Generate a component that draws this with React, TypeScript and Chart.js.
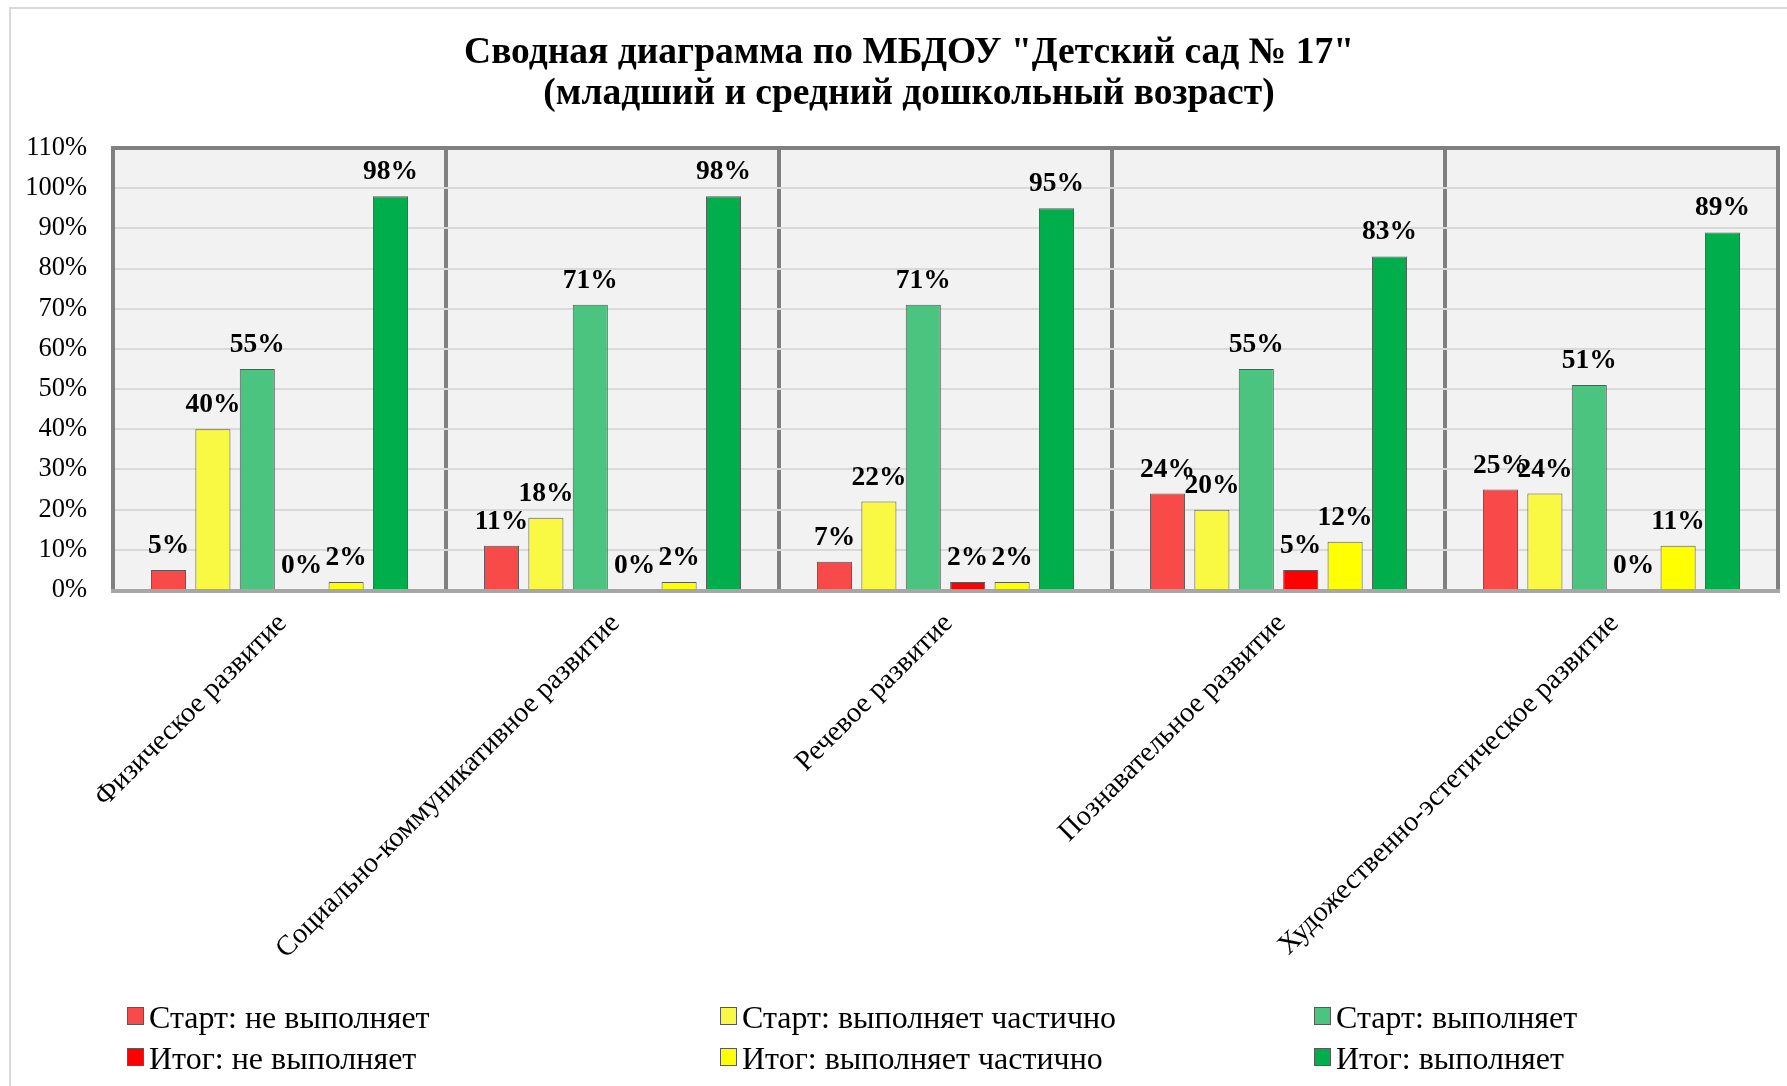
import React, { useEffect, useRef } from "react";
import { Chart, registerables } from "chart.js";

Chart.register(...registerables);

const categories = [
  "Физическое развитие",
  "Социально-коммуникативное развитие",
  "Речевое развитие",
  "Познавательное развитие",
  "Художественно-эстетическое развитие",
];

const seriesNames = [
  "Старт: не выполняет",
  "Старт: выполняет частично",
  "Старт: выполняет",
  "Итог: не выполняет",
  "Итог: выполняет частично",
  "Итог: выполняет",
];

const startNotDone = [5, 11, 7, 24, 25];
const startPartial = [40, 18, 22, 20, 24];
const startDone = [55, 71, 71, 55, 51];
const finalNotDone = [0, 0, 2, 5, 0];
const finalPartial = [2, 2, 2, 12, 11];
const finalDone = [98, 98, 95, 83, 89];

const seriesColors = ["#f94a4a", "#f9f944", "#4ac47f", "#ff0000", "#ffff00", "#00ae4c"];

const titleLines = [
  'Сводная диаграмма по МБДОУ "Детский сад № 17"',
  "(младший и средний дошкольный возраст)",
];

const yTicks = [0, 10, 20, 30, 40, 50, 60, 70, 80, 90, 100, 110];

const SERIF = '"Liberation Serif", "Times New Roman", serif';

export default function App() {
  const ref = useRef<HTMLCanvasElement | null>(null);

  useEffect(() => {
    const canvas = ref.current;
    if (!canvas) return;
    const values = [startNotDone, startPartial, startDone, finalNotDone, finalPartial, finalDone];

    const decor = {
      id: "decor",
      beforeDraw(chart: any) {
        const { ctx, chartArea: a } = chart;
        ctx.save();
        ctx.fillStyle = "#ffffff";
        ctx.fillRect(0, 0, chart.width, chart.height);
        ctx.strokeStyle = "#d9d9d9";
        ctx.lineWidth = 2;
        ctx.strokeRect(10, 8, chart.width + 20, chart.height + 20);
        ctx.fillStyle = "#f2f2f2";
        ctx.fillRect(a.left, a.top, a.right - a.left, a.bottom - a.top);
        // title
        ctx.fillStyle = "#000";
        ctx.font = `bold 37.5px ${SERIF}`;
        ctx.textAlign = "center";
        ctx.textBaseline = "alphabetic";
        ctx.fillText(titleLines[0], 909, 63);
        ctx.fillText(titleLines[1], 909, 104);
        ctx.restore();
      },
      afterDatasetsDraw(chart: any) {
        const { ctx, chartArea: a } = chart;
        ctx.save();
        // frame
        ctx.strokeStyle = "#808080";
        ctx.lineWidth = 4;
        ctx.beginPath();
        ctx.moveTo(a.left, a.bottom);
        ctx.lineTo(a.left, a.top);
        ctx.lineTo(a.right, a.top);
        ctx.lineTo(a.right, a.bottom);
        ctx.stroke();
        ctx.strokeStyle = "#a6a6a6";
        ctx.beginPath();
        ctx.moveTo(a.left - 2, a.bottom + 1);
        ctx.lineTo(a.right + 2, a.bottom + 1);
        ctx.stroke();
        // data labels
        ctx.fillStyle = "#000";
        ctx.font = `bold 27.5px ${SERIF}`;
        ctx.textAlign = "center";
        ctx.textBaseline = "alphabetic";
        chart.data.datasets.forEach((ds: any, i: number) => {
          const meta = chart.getDatasetMeta(i);
          meta.data.forEach((el: any, j: number) => {
            ctx.fillText(`${ds.data[j]}%`, el.x, el.y - 17);
          });
        });
        // legend
        const cols = [127, 720, 1314];
        const rows = [1028, 1069];
        ctx.font = `32px ${SERIF}`;
        ctx.textAlign = "left";
        chart.data.datasets.forEach((ds: any, i: number) => {
          const x = cols[i % 3];
          const y = rows[Math.floor(i / 3)];
          ctx.fillStyle = ds.backgroundColor;
          ctx.fillRect(x, y - 21, 17, 18);
          ctx.strokeStyle = "#595959";
          ctx.lineWidth = 1;
          ctx.strokeRect(x + 0.5, y - 20.5, 16, 17);
          ctx.fillStyle = "#000";
          ctx.fillText(ds.label, x + 22, y);
        });
        ctx.restore();
      },
    };

    const chart = new Chart(canvas, {
      type: "bar",
      data: {
        labels: categories,
        datasets: seriesNames.map((name, i) => ({
          label: name,
          data: values[i],
          backgroundColor: seriesColors[i],
          borderColor: "#595959",
          borderWidth: 1,
          barPercentage: 0.79,
          categoryPercentage: 0.8,
        })),
      },
      options: {
        responsive: false,
        animation: false,
        devicePixelRatio: 1,
        layout: { padding: { left: 0, right: 9, top: 148, bottom: 0 } },
        plugins: {
          legend: { display: false },
          title: { display: false },
          tooltip: { enabled: false },
        },
        scales: {
          x: {
            grid: { display: true, offset: true, color: "#808080", lineWidth: 4, drawTicks: false },
            border: { display: false },
            ticks: {
              color: "#000",
              font: { family: SERIF, size: 28.5 },
              maxRotation: 45,
              minRotation: 45,
              padding: 17,
              labelOffset: 3,
              autoSkip: false,
            },
            afterFit(s: any) {
              s.height = 496;
            },
          },
          y: {
            min: 0,
            max: 110,
            afterBuildTicks(s: any) {
              s.ticks = yTicks.map((v) => ({ value: v }));
            },
            grid: { color: "#d9d9d9", lineWidth: 2, drawTicks: false },
            border: { display: false },
            ticks: {
              color: "#000",
              font: { family: SERIF, size: 26.5 },
              padding: 26,
              callback: (v: any) => `${v}%`,
            },
            afterFit(s: any) {
              s.width = 113;
            },
          },
        },
      },
      plugins: [decor],
    });
    return () => chart.destroy();
  }, []);

  return (
    <div style={{ position: "fixed", left: 0, top: 0, width: 1787, height: 1086 }}>
      <canvas ref={ref} width={1787} height={1086} style={{ display: "block" }} />
    </div>
  );
}
